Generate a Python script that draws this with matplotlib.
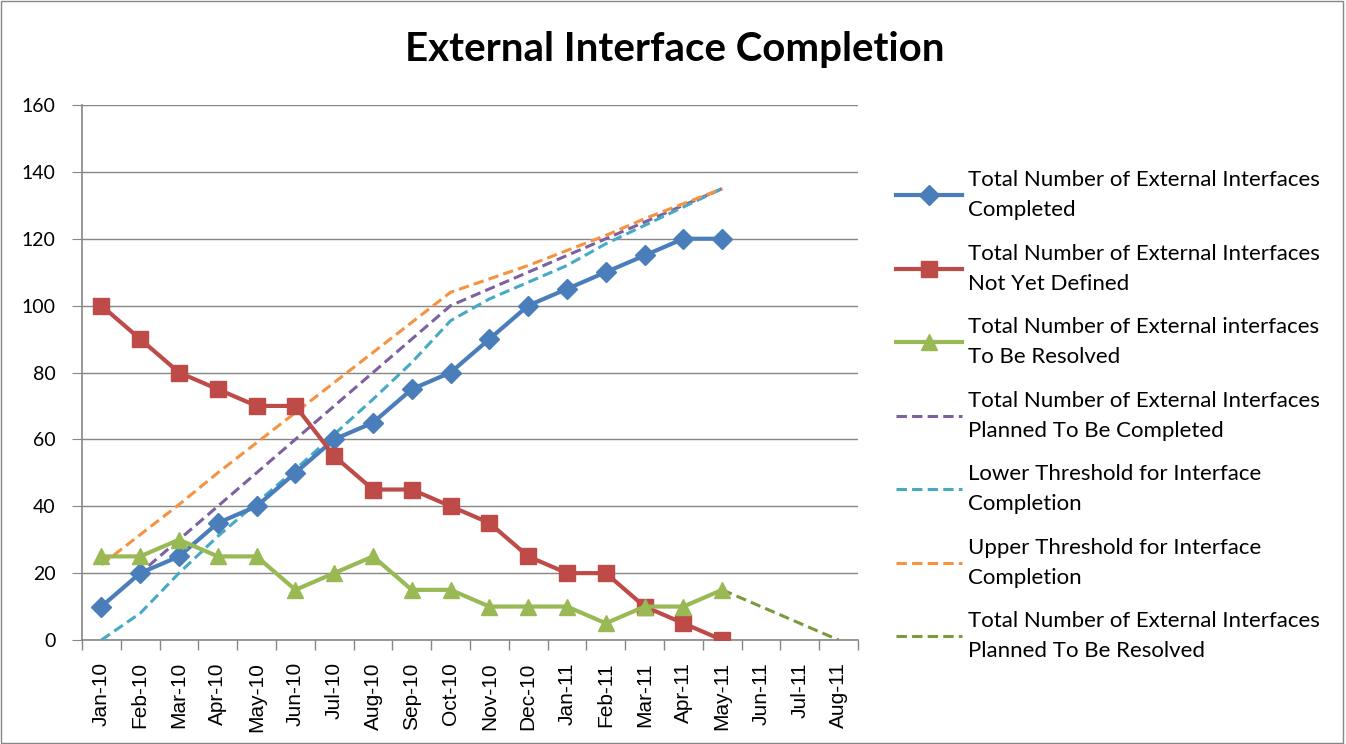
import numpy as np
import matplotlib
matplotlib.use('Agg')
import matplotlib.pyplot as plt
from matplotlib.patches import Rectangle

months = ['Jan-10', 'Feb-10', 'Mar-10', 'Apr-10', 'May-10', 'Jun-10', 'Jul-10',
          'Aug-10', 'Sep-10', 'Oct-10', 'Nov-10', 'Dec-10', 'Jan-11', 'Feb-11',
          'Mar-11', 'Apr-11', 'May-11', 'Jun-11', 'Jul-11', 'Aug-11']

completed = [10, 20, 25, 35, 40, 50, 60, 65, 75, 80, 90, 100, 105, 110, 115, 120, 120]
not_defined = [100, 90, 80, 75, 70, 70, 55, 45, 45, 40, 35, 25, 20, 20, 10, 5, 0]
to_resolve = [25, 25, 30, 25, 25, 15, 20, 25, 15, 15, 10, 10, 10, 5, 10, 10, 15]
planned_complete = [10, 20, 30, 40, 50, 60, 70, 80, 90, 100, 105, 110, 115, 120, 125, 130, 135]
lower_threshold = [0, 8, 20, 31, 41, 51, 61.5, 72, 83, 95.5, 102, 107, 112, 118.5, 124, 129.5, 135]
upper_threshold = [22.5, 31.5, 40.5, 50, 59, 68, 77, 86, 95, 104, 108, 112, 116.5, 121, 126, 130.5, 135]
planned_resolve = [15, 10, 5, 0]   # May-11 .. Aug-11

labels = ['Total Number of External Interfaces\nCompleted',
          'Total Number of External Interfaces\nNot Yet Defined',
          'Total Number of External interfaces\nTo Be Resolved',
          'Total Number of External Interfaces\nPlanned To Be Completed',
          'Lower Threshold for Interface\nCompletion',
          'Upper Threshold for Interface\nCompletion',
          'Total Number of External Interfaces\nPlanned To Be Resolved']

fig = plt.figure(figsize=(13.46, 7.44), dpi=100)
ax = fig.add_axes([82 / 1346, 1 - 640 / 744, 776 / 1346, 535 / 744])

x = np.arange(len(completed))
dash = (0, (3.4, 1.7))

ax.plot(x, completed, color='#4A7EBB', lw=3, marker='D', ms=10, label=labels[0], zorder=5)
ax.plot(x, not_defined, color='#BE4B48', lw=3, marker='s', ms=11, label=labels[1], zorder=5)
ax.plot(x, to_resolve, color='#98B954', lw=3, marker='^', ms=11, label=labels[2], zorder=5)
ax.plot(x, planned_complete, color='#7D60A0', lw=2.2, ls=dash, label=labels[3], zorder=4)
ax.plot(x, lower_threshold, color='#46AAC5', lw=2.2, ls=dash, label=labels[4], zorder=4)
ax.plot(x, upper_threshold, color='#F69240', lw=2.2, ls=dash, label=labels[5], zorder=4)
ax.plot(np.arange(16, 20), planned_resolve, color='#7A9A3C', lw=2.2, ls=dash, label=labels[6], zorder=4)

ax.set_xlim(-0.5, len(months) - 0.5)
ax.set_ylim(0, 160)
ax.set_yticks(range(0, 161, 20))
ax.set_yticklabels([str(v) for v in range(0, 161, 20)], fontsize=14, family='Lato')
ax.set_xticks(range(len(months)))
ax.set_xticklabels(months, rotation=90, fontsize=15, family='Liberation Sans')
ax.set_xticks(np.arange(-0.5, len(months), 1), minor=True)
ax.tick_params(axis='x', which='major', length=0, pad=16)
ax.tick_params(axis='x', which='minor', length=7, color='#868686', width=1)
ax.tick_params(axis='y', length=7, color='#868686', pad=12)
ax.grid(axis='y', color='#868686', lw=1)
ax.set_axisbelow(True)
for side in ['top', 'right']:
    ax.spines[side].set_visible(False)
for side in ['left', 'bottom']:
    ax.spines[side].set_color('#868686')
    ax.spines[side].set_linewidth(1.2)

fig.text(675 / 1346, 1 - 50 / 744, 'External Interface Completion', ha='center', va='center',
         fontsize=29, weight='bold', family='Lato')

leg = fig.legend(loc='upper left', bbox_to_anchor=(876 / 1346, 1 - 150 / 744), frameon=False,
                 prop={'family': 'Lato', 'size': 16}, handlelength=2.95, handletextpad=0.27,
                 labelspacing=1.04)
for t in leg.get_texts():
    t.set_linespacing(1.65)

fig.patches.append(Rectangle((0.001, 0.001), 0.997, 0.997, transform=fig.transFigure,
                             fill=False, edgecolor='#868686', lw=1))

fig.savefig('out.png', dpi=100)
